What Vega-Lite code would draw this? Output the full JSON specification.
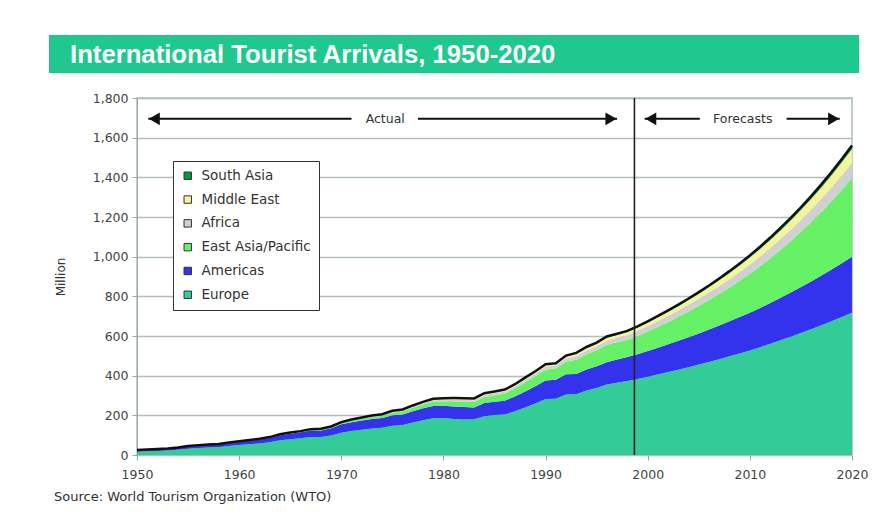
{
  "$schema": "https://vega.github.io/schema/vega-lite/v6.json",
  "background": "white",
  "padding": {"left": 46, "top": 35, "right": 0, "bottom": 0},
  "autosize": {"type": "pad"},
  "spacing": 18,
  "config": {
    "font": "DejaVu Sans",
    "view": {"stroke": "#b0c0b4", "strokeWidth": 1.5},
    "axis": {
      "labelFont": "DejaVu Sans",
      "labelFontSize": 12.5,
      "labelColor": "#444",
      "tickColor": "#9aa89e",
      "domainColor": "#9aa89e",
      "gridColor": "#b0c0b4",
      "gridWidth": 1.5,
      "labelFlush": false,
      "labelOverlap": false,
      "titleFont": "DejaVu Sans",
      "titleFontWeight": "normal",
      "titleColor": "#333"
    }
  },
  "datasets": {
    "tourism": [
      {"year":1950,"Europe":16.8,"Americas":7.5,"East Asia/Pacific":0.2,"Africa":0.5,"Middle East":0.2,"South Asia":0.1},
      {"year":1951,"Europe":18.6,"Americas":8.1,"East Asia/Pacific":0.25,"Africa":0.55,"Middle East":0.22,"South Asia":0.1},
      {"year":1952,"Europe":20.5,"Americas":8.6,"East Asia/Pacific":0.3,"Africa":0.6,"Middle East":0.25,"South Asia":0.1},
      {"year":1953,"Europe":22.4,"Americas":9.1,"East Asia/Pacific":0.35,"Africa":0.6,"Middle East":0.28,"South Asia":0.1},
      {"year":1954,"Europe":26.0,"Americas":10.3,"East Asia/Pacific":0.4,"Africa":0.65,"Middle East":0.3,"South Asia":0.1},
      {"year":1955,"Europe":31.9,"Americas":12.3,"East Asia/Pacific":0.5,"Africa":0.7,"Middle East":0.35,"South Asia":0.12},
      {"year":1956,"Europe":34.9,"Americas":13.1,"East Asia/Pacific":0.55,"Africa":0.7,"Middle East":0.4,"South Asia":0.14},
      {"year":1957,"Europe":37.6,"Americas":13.8,"East Asia/Pacific":0.6,"Africa":0.7,"Middle East":0.4,"South Asia":0.15},
      {"year":1958,"Europe":39.0,"Americas":14.2,"East Asia/Pacific":0.65,"Africa":0.75,"Middle East":0.45,"South Asia":0.16},
      {"year":1959,"Europe":44.9,"Americas":15.8,"East Asia/Pacific":0.75,"Africa":0.75,"Middle East":0.5,"South Asia":0.18},
      {"year":1960,"Europe":50.4,"Americas":16.7,"East Asia/Pacific":0.9,"Africa":0.8,"Middle East":0.6,"South Asia":0.2},
      {"year":1961,"Europe":54.4,"Americas":18.2,"East Asia/Pacific":1.1,"Africa":0.9,"Middle East":0.7,"South Asia":0.24},
      {"year":1962,"Europe":58.4,"Americas":19.8,"East Asia/Pacific":1.4,"Africa":1.0,"Middle East":0.75,"South Asia":0.27},
      {"year":1963,"Europe":64.3,"Americas":22.0,"East Asia/Pacific":1.7,"Africa":1.1,"Middle East":0.85,"South Asia":0.3},
      {"year":1964,"Europe":74.3,"Americas":25.7,"East Asia/Pacific":2.2,"Africa":1.3,"Middle East":1.0,"South Asia":0.37},
      {"year":1965,"Europe":79.8,"Americas":27.9,"East Asia/Pacific":2.6,"Africa":1.4,"Middle East":1.1,"South Asia":0.42},
      {"year":1966,"Europe":84.3,"Americas":29.8,"East Asia/Pacific":3.1,"Africa":1.5,"Middle East":1.2,"South Asia":0.48},
      {"year":1967,"Europe":90.6,"Americas":32.6,"East Asia/Pacific":3.7,"Africa":1.7,"Middle East":1.3,"South Asia":0.55},
      {"year":1968,"Europe":90.9,"Americas":33.2,"East Asia/Pacific":4.1,"Africa":1.7,"Middle East":1.4,"South Asia":0.6},
      {"year":1969,"Europe":98.5,"Americas":36.4,"East Asia/Pacific":5.0,"Africa":1.9,"Middle East":1.5,"South Asia":0.7},
      {"year":1970,"Europe":112.3,"Americas":42.3,"East Asia/Pacific":6.2,"Africa":2.4,"Middle East":1.9,"South Asia":0.9},
      {"year":1971,"Europe":120.7,"Americas":45.0,"East Asia/Pacific":7.4,"Africa":2.8,"Middle East":2.2,"South Asia":1.0},
      {"year":1972,"Europe":127.3,"Americas":46.8,"East Asia/Pacific":8.5,"Africa":3.1,"Middle East":2.5,"South Asia":1.1},
      {"year":1973,"Europe":133.4,"Americas":48.5,"East Asia/Pacific":9.7,"Africa":3.5,"Middle East":2.8,"South Asia":1.2},
      {"year":1974,"Europe":137.2,"Americas":49.6,"East Asia/Pacific":10.9,"Africa":3.8,"Middle East":3.0,"South Asia":1.3},
      {"year":1975,"Europe":147.8,"Americas":52.8,"East Asia/Pacific":13.0,"Africa":4.4,"Middle East":3.4,"South Asia":1.4},
      {"year":1976,"Europe":151.5,"Americas":53.3,"East Asia/Pacific":14.6,"Africa":4.8,"Middle East":3.7,"South Asia":1.5},
      {"year":1977,"Europe":164.4,"Americas":56.8,"East Asia/Pacific":17.1,"Africa":5.5,"Middle East":4.3,"South Asia":1.7},
      {"year":1978,"Europe":175.5,"Americas":59.6,"East Asia/Pacific":19.6,"Africa":6.1,"Middle East":4.9,"South Asia":1.9},
      {"year":1979,"Europe":185.2,"Americas":62.0,"East Asia/Pacific":21.7,"Africa":6.7,"Middle East":5.5,"South Asia":2.1},
      {"year":1980,"Europe":186.0,"Americas":62.3,"East Asia/Pacific":23.0,"Africa":7.2,"Middle East":5.9,"South Asia":2.2},
      {"year":1981,"Europe":181.0,"Americas":64.0,"East Asia/Pacific":25.5,"Africa":8.0,"Middle East":6.3,"South Asia":2.3},
      {"year":1982,"Europe":179.0,"Americas":63.0,"East Asia/Pacific":27.0,"Africa":8.5,"Middle East":6.6,"South Asia":2.4},
      {"year":1983,"Europe":180.0,"Americas":60.0,"East Asia/Pacific":27.5,"Africa":8.8,"Middle East":6.8,"South Asia":2.4},
      {"year":1984,"Europe":195.0,"Americas":67.0,"East Asia/Pacific":31.0,"Africa":9.3,"Middle East":7.0,"South Asia":2.5},
      {"year":1985,"Europe":202.0,"Americas":66.0,"East Asia/Pacific":33.0,"Africa":9.8,"Middle East":7.2,"South Asia":2.5},
      {"year":1986,"Europe":204.0,"Americas":70.0,"East Asia/Pacific":36.0,"Africa":10.2,"Middle East":7.1,"South Asia":2.6},
      {"year":1987,"Europe":220.0,"Americas":75.0,"East Asia/Pacific":41.0,"Africa":10.8,"Middle East":7.3,"South Asia":2.8},
      {"year":1988,"Europe":239.0,"Americas":81.0,"East Asia/Pacific":47.0,"Africa":12.3,"Middle East":8.0,"South Asia":2.9},
      {"year":1989,"Europe":260.0,"Americas":87.0,"East Asia/Pacific":50.0,"Africa":13.6,"Middle East":8.3,"South Asia":3.1},
      {"year":1990,"Europe":282.7,"Americas":92.8,"East Asia/Pacific":54.6,"Africa":15.0,"Middle East":9.0,"South Asia":3.2},
      {"year":1991,"Europe":284.0,"Americas":96.0,"East Asia/Pacific":57.0,"Africa":16.0,"Middle East":7.0,"South Asia":3.0},
      {"year":1992,"Europe":305.0,"Americas":102.0,"East Asia/Pacific":63.0,"Africa":17.5,"Middle East":10.3,"South Asia":3.6},
      {"year":1993,"Europe":306.0,"Americas":103.0,"East Asia/Pacific":71.0,"Africa":18.3,"Middle East":12.6,"South Asia":3.9},
      {"year":1994,"Europe":325.0,"Americas":106.0,"East Asia/Pacific":77.0,"Africa":19.1,"Middle East":13.4,"South Asia":4.1},
      {"year":1995,"Europe":338.4,"Americas":108.9,"East Asia/Pacific":81.4,"Africa":20.2,"Middle East":13.7,"South Asia":4.2},
      {"year":1996,"Europe":355.0,"Americas":113.0,"East Asia/Pacific":88.0,"Africa":21.8,"Middle East":15.0,"South Asia":4.5},
      {"year":1997,"Europe":364.0,"Americas":117.0,"East Asia/Pacific":87.0,"Africa":23.0,"Middle East":15.5,"South Asia":4.8},
      {"year":1998,"Europe":373.0,"Americas":121.0,"East Asia/Pacific":86.0,"Africa":25.0,"Middle East":15.6,"South Asia":5.4},
      {"year":1999,"Europe":383.0,"Americas":125.0,"East Asia/Pacific":92.0,"Africa":26.5,"Middle East":16.5,"South Asia":5.6},
      {"year":2000,"Europe":394.3,"Americas":129.9,"East Asia/Pacific":98.5,"Africa":27.9,"Middle East":17.7,"South Asia":5.9},
      {"year":2001,"Europe":405.9,"Americas":134.9,"East Asia/Pacific":105.5,"Africa":29.4,"Middle East":19.0,"South Asia":6.3},
      {"year":2002,"Europe":417.9,"Americas":140.2,"East Asia/Pacific":113.0,"Africa":30.9,"Middle East":20.4,"South Asia":6.7},
      {"year":2003,"Europe":430.2,"Americas":145.7,"East Asia/Pacific":121.1,"Africa":32.6,"Middle East":21.9,"South Asia":7.1},
      {"year":2004,"Europe":442.9,"Americas":151.3,"East Asia/Pacific":129.7,"Africa":34.3,"Middle East":23.5,"South Asia":7.5},
      {"year":2005,"Europe":456.0,"Americas":157.2,"East Asia/Pacific":138.9,"Africa":36.1,"Middle East":25.2,"South Asia":7.9},
      {"year":2006,"Europe":469.4,"Americas":163.4,"East Asia/Pacific":148.7,"Africa":38.0,"Middle East":27.0,"South Asia":8.4},
      {"year":2007,"Europe":483.3,"Americas":169.7,"East Asia/Pacific":159.3,"Africa":40.0,"Middle East":29.0,"South Asia":8.9},
      {"year":2008,"Europe":497.5,"Americas":176.3,"East Asia/Pacific":170.6,"Africa":42.2,"Middle East":31.1,"South Asia":9.4},
      {"year":2009,"Europe":512.2,"Americas":183.2,"East Asia/Pacific":182.7,"Africa":44.4,"Middle East":33.4,"South Asia":10.0},
      {"year":2010,"Europe":527.3,"Americas":190.4,"East Asia/Pacific":195.2,"Africa":47.0,"Middle East":35.9,"South Asia":10.6},
      {"year":2011,"Europe":543.8,"Americas":198.0,"East Asia/Pacific":209.6,"Africa":49.4,"Middle East":38.3,"South Asia":11.2},
      {"year":2012,"Europe":560.8,"Americas":205.9,"East Asia/Pacific":225.0,"Africa":51.9,"Middle East":40.9,"South Asia":11.9},
      {"year":2013,"Europe":578.4,"Americas":214.2,"East Asia/Pacific":241.5,"Africa":54.5,"Middle East":43.6,"South Asia":12.6},
      {"year":2014,"Europe":596.5,"Americas":222.7,"East Asia/Pacific":259.3,"Africa":57.3,"Middle East":46.5,"South Asia":13.3},
      {"year":2015,"Europe":615.2,"Americas":231.6,"East Asia/Pacific":278.4,"Africa":60.2,"Middle East":49.6,"South Asia":14.1},
      {"year":2016,"Europe":634.4,"Americas":240.9,"East Asia/Pacific":298.9,"Africa":63.3,"Middle East":52.9,"South Asia":14.9},
      {"year":2017,"Europe":654.3,"Americas":250.6,"East Asia/Pacific":320.9,"Africa":66.5,"Middle East":56.5,"South Asia":15.8},
      {"year":2018,"Europe":674.8,"Americas":260.6,"East Asia/Pacific":344.5,"Africa":69.9,"Middle East":60.3,"South Asia":16.7},
      {"year":2019,"Europe":695.9,"Americas":271.0,"East Asia/Pacific":369.9,"Africa":73.5,"Middle East":64.3,"South Asia":17.7},
      {"year":2020,"Europe":717.0,"Americas":282.3,"East Asia/Pacific":397.2,"Africa":77.3,"Middle East":68.5,"South Asia":18.8}
    ],
    "regionOrder": [
      {"region": "Europe", "rank": 1},
      {"region": "Americas", "rank": 2},
      {"region": "East Asia/Pacific", "rank": 3},
      {"region": "Africa", "rank": 4},
      {"region": "Middle East", "rank": 5},
      {"region": "South Asia", "rank": 6}
    ],
    "divider": [{"year": 1998.7}],
    "arrowLines": [
      {"from": 1951.1, "to": 1971.0, "level": 1695},
      {"from": 1977.5, "to": 1997.0, "level": 1695},
      {"from": 1999.7, "to": 2005.1, "level": 1695},
      {"from": 2013.6, "to": 2018.8, "level": 1695}
    ],
    "arrowHeads": [
      {"at": 1951.7, "level": 1695, "dir": "left"},
      {"at": 1996.4, "level": 1695, "dir": "right"},
      {"at": 2000.3, "level": 1695, "dir": "left"},
      {"at": 2018.2, "level": 1695, "dir": "right"}
    ],
    "periodLabels": [
      {"at": 1974.3, "level": 1695, "label": "Actual"},
      {"at": 2009.3, "level": 1695, "label": "Forecasts"}
    ],
    "banner": [{"label": "International Tourist Arrivals, 1950-2020"}]
  },
  "vconcat": [
    {
      "width": 810,
      "height": 38,
      "view": {"fill": "#1fc88f", "stroke": null},
      "data": {"name": "banner"},
      "mark": {"type": "text", "align": "left", "baseline": "alphabetic", "dx": 21, "dy": -10, "font": "Liberation Sans", "fontSize": 25.7, "fontWeight": "bold", "color": "white"},
      "encoding": {
        "x": {"datum": 0, "type": "quantitative", "scale": {"domain": [0, 1]}, "axis": null},
        "y": {"datum": 0, "type": "quantitative", "scale": {"domain": [0, 1]}, "axis": null},
        "text": {"field": "label"}
      }
    },
    {
      "spacing": 0,
      "hconcat": [
        {
          "width": 1,
          "height": 357,
          "view": {"stroke": null},
          "data": {"values": [{"k": 1}]},
          "mark": {"type": "point", "opacity": 0},
          "encoding": {}
        },
        {
          "width": 715,
          "height": 357,
          "title": {
            "text": "Source: World Tourism Organization (WTO)",
            "orient": "bottom",
            "anchor": "start",
            "frame": "bounds",
            "offset": 10,
            "font": "DejaVu Sans",
            "fontSize": 13,
            "fontWeight": "normal",
            "color": "#333"
          },
          "layer": [
            {
              "data": {"name": "tourism"},
              "transform": [
                {"fold": ["Europe", "Americas", "East Asia/Pacific", "Africa", "Middle East", "South Asia"], "as": ["region", "value"]},
                {"lookup": "region", "from": {"data": {"name": "regionOrder"}, "key": "region", "fields": ["rank"]}}
              ],
              "mark": {"type": "area", "interpolate": "linear"},
              "encoding": {
                "x": {"field": "year", "type": "quantitative", "title": null,
                      "scale": {"domain": [1950, 2020], "nice": false, "zero": false},
                      "axis": {"values": [1950, 1960, 1970, 1980, 1990, 2000, 2010, 2020], "format": "d", "grid": false, "tickSize": 5, "labelPadding": 8, "domain": false}},
                "y": {"field": "value", "type": "quantitative", "stack": "zero", "title": "Million",
                      "scale": {"domain": [0, 1800], "nice": false},
                      "axis": {"values": [0, 200, 400, 600, 800, 1000, 1200, 1400, 1600, 1800], "format": ",d", "tickSize": 5, "labelPadding": 4, "minExtent": 45, "maxExtent": 45, "titlePadding": 25, "titleFontSize": 12}},
                "order": {"field": "rank", "type": "quantitative", "sort": "ascending"},
                "color": {"field": "region", "type": "nominal",
                          "scale": {"domain": ["South Asia", "Middle East", "Africa", "East Asia/Pacific", "Americas", "Europe"],
                                    "range": ["#009933", "#f4f49a", "#d0d0d0", "#66f066", "#3333ee", "#33cc99"]},
                          "legend": {"title": null,
                                     "orient": "none", "legendX": 124, "legendY": 126,
                                     "fillColor": "white", "strokeColor": "#333", "padding": 8,
                                     "symbolType": "square", "symbolSize": 55, "symbolStrokeColor": "#333", "symbolStrokeWidth": 1,
                                     "labelFont": "DejaVu Sans", "labelFontSize": 13.5, "labelColor": "#333", "labelOffset": 7, "rowPadding": 8.8}}
              }
            },
            {
              "data": {"name": "tourism"},
              "transform": [{"fold": ["Europe", "Americas", "East Asia/Pacific", "Africa", "Middle East", "South Asia"], "as": ["region", "value"]}],
              "mark": {"type": "line", "color": "#111", "strokeWidth": 2.5},
              "encoding": {
                "x": {"field": "year", "type": "quantitative", "title": null,
                      "scale": {"domain": [1950, 2020], "nice": false, "zero": false},
                      "axis": {"values": [1950, 1960, 1970, 1980, 1990, 2000, 2010, 2020], "format": "d", "grid": false, "tickSize": 5, "labelPadding": 8, "domain": false}},
                "y": {"aggregate": "sum", "field": "value", "type": "quantitative", "title": "Million",
                      "scale": {"domain": [0, 1800], "nice": false},
                      "axis": {"values": [0, 200, 400, 600, 800, 1000, 1200, 1400, 1600, 1800], "format": ",d", "tickSize": 5, "labelPadding": 4, "minExtent": 45, "maxExtent": 45, "titlePadding": 25, "titleFontSize": 12}}
              }
            },
            {
              "data": {"name": "divider"},
              "mark": {"type": "rule", "color": "#222", "strokeWidth": 1.6},
              "encoding": {
                "x": {"field": "year", "type": "quantitative", "title": null,
                      "scale": {"domain": [1950, 2020], "nice": false, "zero": false},
                      "axis": {"values": [1950, 1960, 1970, 1980, 1990, 2000, 2010, 2020], "format": "d", "grid": false, "tickSize": 5, "labelPadding": 8, "domain": false}}
              }
            },
            {
              "data": {"name": "arrowLines"},
              "mark": {"type": "rule", "color": "#111", "strokeWidth": 2},
              "encoding": {
                "x": {"field": "from", "type": "quantitative", "title": null,
                      "scale": {"domain": [1950, 2020], "nice": false, "zero": false},
                      "axis": {"values": [1950, 1960, 1970, 1980, 1990, 2000, 2010, 2020], "format": "d", "grid": false, "tickSize": 5, "labelPadding": 8, "domain": false}},
                "x2": {"field": "to"},
                "y": {"field": "level", "type": "quantitative", "title": "Million",
                      "scale": {"domain": [0, 1800], "nice": false},
                      "axis": {"values": [0, 200, 400, 600, 800, 1000, 1200, 1400, 1600, 1800], "format": ",d", "tickSize": 5, "labelPadding": 4, "minExtent": 45, "maxExtent": 45, "titlePadding": 25, "titleFontSize": 12}}
              }
            },
            {
              "data": {"name": "arrowHeads"},
              "mark": {"type": "point", "filled": true, "color": "#111", "opacity": 1, "size": 160},
              "encoding": {
                "x": {"field": "at", "type": "quantitative", "title": null,
                      "scale": {"domain": [1950, 2020], "nice": false, "zero": false},
                      "axis": {"values": [1950, 1960, 1970, 1980, 1990, 2000, 2010, 2020], "format": "d", "grid": false, "tickSize": 5, "labelPadding": 8, "domain": false}},
                "y": {"field": "level", "type": "quantitative", "title": "Million",
                      "scale": {"domain": [0, 1800], "nice": false},
                      "axis": {"values": [0, 200, 400, 600, 800, 1000, 1200, 1400, 1600, 1800], "format": ",d", "tickSize": 5, "labelPadding": 4, "minExtent": 45, "maxExtent": 45, "titlePadding": 25, "titleFontSize": 12}},
                "shape": {"field": "dir", "type": "nominal", "scale": {"domain": ["left", "right"], "range": ["triangle-left", "triangle-right"]}, "legend": null}
              }
            },
            {
              "data": {"name": "periodLabels"},
              "mark": {"type": "text", "font": "DejaVu Sans", "fontSize": 12.5, "color": "#333"},
              "encoding": {
                "x": {"field": "at", "type": "quantitative", "title": null,
                      "scale": {"domain": [1950, 2020], "nice": false, "zero": false},
                      "axis": {"values": [1950, 1960, 1970, 1980, 1990, 2000, 2010, 2020], "format": "d", "grid": false, "tickSize": 5, "labelPadding": 8, "domain": false}},
                "y": {"field": "level", "type": "quantitative", "title": "Million",
                      "scale": {"domain": [0, 1800], "nice": false},
                      "axis": {"values": [0, 200, 400, 600, 800, 1000, 1200, 1400, 1600, 1800], "format": ",d", "tickSize": 5, "labelPadding": 4, "minExtent": 45, "maxExtent": 45, "titlePadding": 25, "titleFontSize": 12}},
                "text": {"field": "label"}
              }
            }
          ]
        }
      ]
    }
  ]
}
